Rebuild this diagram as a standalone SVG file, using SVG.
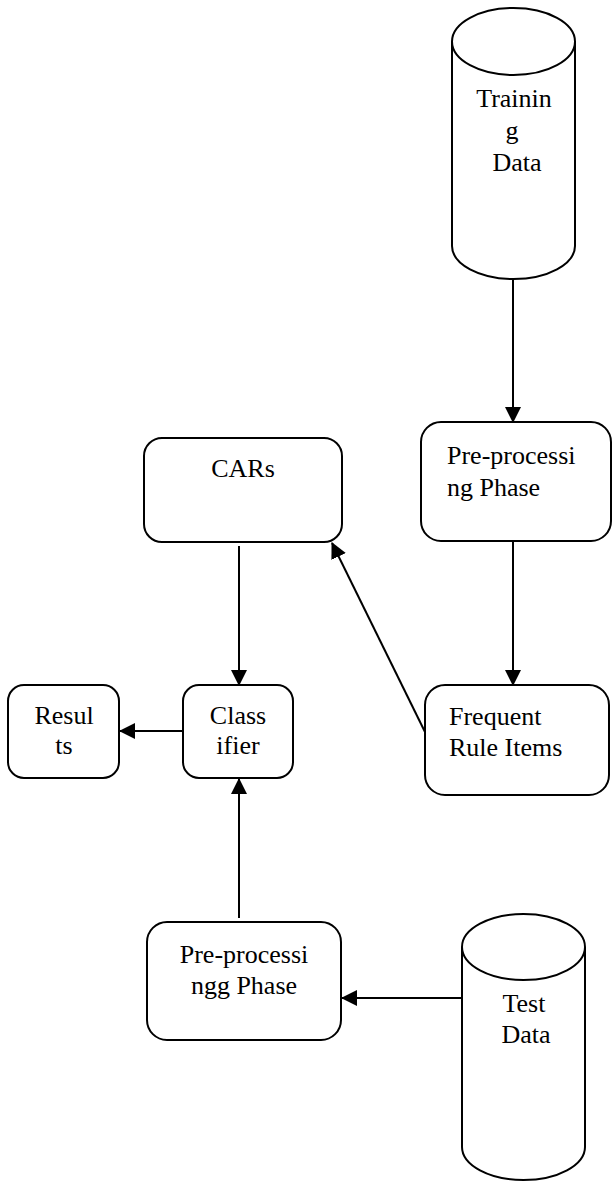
<svg xmlns="http://www.w3.org/2000/svg" width="612" height="1182" viewBox="0 0 612 1182">
<style>
.s{fill:#fff;stroke:#000;stroke-width:2}
.c{fill:none;stroke:#000;stroke-width:2}
.t{font-family:"Liberation Serif","Times New Roman",serif;font-size:26px;fill:#000;text-anchor:middle}
</style>
<defs>
<marker id="ah" markerWidth="16" markerHeight="16" viewBox="0 0 16 16" refX="15" refY="8" orient="auto" markerUnits="userSpaceOnUse">
<path d="M0,0 L16,8 L0,16 Z" fill="#000"/>
</marker>
</defs>
<rect width="612" height="1182" fill="#fff"/>
<g id="training-data">
<path class="s" d="M452,41.5 L452,246 A61.5,33 0 0 0 575,246 L575,41.5"/>
<ellipse class="s" cx="513.5" cy="41.5" rx="61.5" ry="33.5"/>
<text class="t" x="514" y="107">Trainin</text>
<text class="t" x="512" y="139">g</text>
<text class="t" x="517" y="171">Data</text>
</g>
<g id="preproc-top">
<rect class="s" x="421" y="422" width="190" height="119" rx="20"/>
<text class="t" x="447" y="464" text-anchor="start" style="text-anchor:start">Pre-processi</text>
<text class="t" x="447" y="496" style="text-anchor:start">ng Phase</text>
</g>
<g id="frequent">
<rect class="s" x="425" y="685" width="184" height="110" rx="20"/>
<text class="t" x="449" y="725" style="text-anchor:start">Frequent</text>
<text class="t" x="449" y="756" style="text-anchor:start">Rule Items</text>
</g>
<g id="cars">
<rect class="s" x="144" y="438" width="198" height="104" rx="18"/>
<text class="t" x="243" y="477">CARs</text>
</g>
<g id="classifier">
<rect class="s" x="183" y="685" width="110" height="93" rx="16"/>
<text class="t" x="238" y="724">Class</text>
<text class="t" x="238" y="754">ifier</text>
</g>
<g id="results">
<rect class="s" x="8" y="685" width="111" height="93" rx="16"/>
<text class="t" x="64" y="724">Resul</text>
<text class="t" x="64" y="754">ts</text>
</g>
<g id="preproc-bottom">
<rect class="s" x="147" y="922" width="194" height="118" rx="20"/>
<text class="t" x="244" y="963">Pre-processi</text>
<text class="t" x="244" y="994">ngg Phase</text>
</g>
<g id="test-data">
<path class="s" d="M462,947 L462,1147 A61.5,33 0 0 0 585,1147 L585,947"/>
<ellipse class="s" cx="523.5" cy="947" rx="61.5" ry="33"/>
<text class="t" x="524" y="1012">Test</text>
<text class="t" x="526" y="1043">Data</text>
</g>
<g id="connectors">
<line class="c" x1="513" y1="279" x2="513" y2="422" marker-end="url(#ah)"/>
<line class="c" x1="513" y1="541" x2="513" y2="685" marker-end="url(#ah)"/>
<line class="c" x1="425" y1="732" x2="332" y2="543" marker-end="url(#ah)"/>
<line class="c" x1="239" y1="546" x2="239" y2="685" marker-end="url(#ah)"/>
<line class="c" x1="182" y1="731" x2="120" y2="731" marker-end="url(#ah)"/>
<line class="c" x1="239" y1="918" x2="239" y2="779" marker-end="url(#ah)"/>
<line class="c" x1="462" y1="998" x2="342" y2="998" marker-end="url(#ah)"/>
</g>
</svg>
